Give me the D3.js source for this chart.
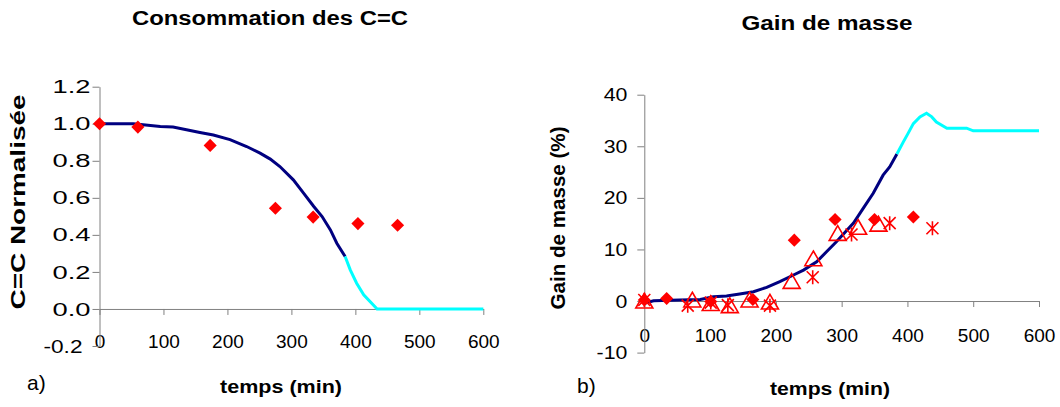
<!DOCTYPE html>
<html><head><meta charset="utf-8">
<script src="https://cdn.jsdelivr.net/npm/d3@7"></script>
<style>
body{margin:0;background:#fff;}
text{font-family:"Liberation Sans",Arial,sans-serif;}
</style></head>
<body><svg id="c" width="1060" height="407"></svg>
<script>
// ---- data ----
const xTicks = [0,100,200,300,400,500,600];
const leftYTicks = [-0.2,0,0.2,0.4,0.6,0.8,1.0,1.2];
const rightYTicks = [-10,0,10,20,30,40];

const ccExpX = [0, 60, 173, 275, 334, 404, 466];
const ccExpY = [1.0, 0.982, 0.883, 0.544, 0.496, 0.461, 0.452];
const ccModelX = [0, 53, 95, 115, 136, 157, 178, 204, 230, 251, 267, 282, 303, 319, 335, 348, 361, 371, 384];
const ccModelY = [1.0, 1.0, 0.985, 0.982, 0.968, 0.953, 0.939, 0.914, 0.877, 0.841, 0.809, 0.769, 0.697, 0.625, 0.553, 0.499, 0.427, 0.355, 0.283];
const ccExtraX = [384, 392, 402, 413, 434, 600];
const ccExtraY = [0.283, 0.211, 0.139, 0.076, 0, 0];

const gmModelX = [0, 14, 54, 85, 105, 125, 145, 166, 186, 206, 226, 242, 262, 277, 292, 318, 333, 348, 363, 373, 384];
const gmModelY = [-0.45, 0.06, 0.2, 0.3, 0.83, 0.97, 1.36, 1.8, 2.65, 3.75, 5.0, 6.0, 7.6, 9.55, 11.5, 15.1, 18.0, 20.9, 24.4, 26.0, 28.5];
const gmExtraX = [384, 394, 401, 409, 419, 429, 437, 444, 460, 490, 500, 600];
const gmExtraY = [28.5, 30.9, 32.5, 34.4, 35.7, 36.4, 35.7, 34.7, 33.5, 33.5, 33.0, 33.0];
const gmDiamX = [0, 34, 101, 165, 228, 290, 350, 409];
const gmDiamY = [0.2, 0.5, -0.1, 0.3, 11.8, 15.8, 15.8, 16.3];
const gmTriX = [0, 73, 101, 130, 160, 191, 224, 257, 294, 325, 356];
const gmTriY = [-0.4, -0.2, -0.9, -1.3, -0.2, -0.6, 3.4, 7.8, 12.7, 13.9, 14.5];
const gmAstX = [0, 66, 101, 127, 191, 256, 315, 373, 438];
const gmAstY = [0.2, -0.9, -0.3, -0.8, -0.9, 4.6, 12.9, 15.1, 14.1];

const zip = (a,b) => a.map((v,i)=>[v,b[i]]);

const svg = d3.select("#c");
svg.append("rect").attr("width",1060).attr("height",407).attr("fill","#fff");

const AX = "#808080", NAVY = "#000080", CYAN = "#00FFFF", RED = "#FF0000";
const fmtMinus = s => s.replace("\u2212","-");

function styleAxis(g){
  g.select(".domain").attr("stroke",AX);
  g.selectAll(".tick line").attr("stroke",AX);
  g.selectAll(".tick text").attr("fill","#000").attr("font-size",19)
    .attr("font-family","Liberation Sans, Arial, sans-serif");
}

function chart(o){
  const x = d3.scaleLinear().domain([0,600]).range(o.xr);
  const y = d3.scaleLinear().domain(o.yd).range(o.yr);
  const ax = svg.append("g").attr("transform",`translate(0,${y(0)})`)
    .call(d3.axisBottom(x).tickValues(xTicks).tickSize(6).tickPadding(o.xpad).tickSizeOuter(0).tickFormat(d3.format("d")));
  styleAxis(ax);
  const ay = svg.append("g").attr("transform",`translate(${x(0)},0)`)
    .call(d3.axisLeft(y).tickValues(o.yTicks).tickSize(7).tickPadding(o.ypad).tickSizeOuter(0).tickFormat(d=>fmtMinus(o.yfmt(d))));
  styleAxis(ay);
  return {x,y,ay};
}

// Left chart
const L = chart({xr:[99.5,483.3], yd:[-0.2,1.2], yr:[346,86.7], yTicks:leftYTicks, yfmt:d3.format(".1f"), xpad:20, ypad:2});
L.ay.selectAll(".tick text").each(function(d){
  const t = d3.select(this);
  if(d < 0){ t.attr("textLength",39).attr("lengthAdjust","spacingAndGlyphs").attr("x",-17); }
  else { t.attr("textLength",38).attr("lengthAdjust","spacingAndGlyphs"); }
});
const lineL = d3.line().x(d=>L.x(d[0])).y(d=>L.y(d[1]));
svg.append("path").attr("d",lineL(zip(ccModelX,ccModelY))).attr("fill","none").attr("stroke",NAVY).attr("stroke-width",3);
svg.append("path").attr("d",lineL(zip(ccExtraX,ccExtraY))).attr("fill","none").attr("stroke",CYAN).attr("stroke-width",3);
const diamond = d3.symbol(d3.symbolSquare, 86);
svg.append("g").selectAll("path").data(zip(ccExpX,ccExpY)).join("path")
  .attr("d",diamond).attr("fill",RED)
  .attr("transform",d=>`translate(${L.x(d[0])},${L.y(d[1])}) rotate(45)`);

// Right chart
const R = chart({xr:[644.3,1039], yd:[-10,40], yr:[352.6,94.7], yTicks:rightYTicks, yfmt:d3.format("d"), xpad:21, ypad:10});
R.ay.selectAll(".tick text").each(function(){
  const t = d3.select(this);
  const n = this.getComputedTextLength();
  t.attr("textLength", n*1.12).attr("lengthAdjust","spacingAndGlyphs");
});
const lineR = d3.line().x(d=>R.x(d[0])).y(d=>R.y(d[1]));
svg.append("path").attr("d",lineR(zip(gmModelX,gmModelY))).attr("fill","none").attr("stroke",NAVY).attr("stroke-width",3);
svg.append("path").attr("d",lineR(zip(gmExtraX,gmExtraY))).attr("fill","none").attr("stroke",CYAN).attr("stroke-width",3);
const tri = d3.symbol(d3.symbolTriangle, 125);
svg.append("g").selectAll("path").data(zip(gmTriX,gmTriY)).join("path")
  .attr("d",tri).attr("fill","none").attr("stroke",RED).attr("stroke-width",1.6)
  .attr("transform",d=>`translate(${R.x(d[0])},${R.y(d[1])})`);
const ast = "M0,-7L0,7M-6,-6L6,6M-6,6L6,-6";
svg.append("g").selectAll("path").data(zip(gmAstX,gmAstY)).join("path")
  .attr("d",ast).attr("fill","none").attr("stroke",RED).attr("stroke-width",1.6)
  .attr("transform",d=>`translate(${R.x(d[0])},${R.y(d[1])})`);
svg.append("g").selectAll("path").data(zip(gmDiamX,gmDiamY)).join("path")
  .attr("d",diamond).attr("fill",RED)
  .attr("transform",d=>`translate(${R.x(d[0])},${R.y(d[1])}) rotate(45)`);

// Texts
function txt(s, x, y, size, weight, len, rot){
  const t = svg.append("text").text(s).attr("font-size",size).attr("font-weight",weight)
    .attr("text-anchor","middle").attr("fill","#000");
  if(rot){ t.attr("transform",`translate(${x},${y}) rotate(-90)`); }
  else { t.attr("x",x).attr("y",y); }
  if(len){ t.attr("textLength",len).attr("lengthAdjust","spacingAndGlyphs"); }
  return t;
}
txt("Consommation des C=C", 270, 25, 20, "bold", 276);
txt("Gain de masse", 827, 30, 20, "bold", 171);
txt("temps (min)", 281, 393, 19, "bold", 122);
txt("temps (min)", 830, 395, 19, "bold", 120);
txt("C=C Normalisée", 24.5, 202, 20, "bold", 215, true);
txt("Gain de masse (%)", 565, 218, 20, "bold", 183, true);
svg.append("text").text("a)").attr("x",27).attr("y",390).attr("font-size",21);
svg.append("text").text("b)").attr("x",577).attr("y",393).attr("font-size",21);
</script></body></html>
